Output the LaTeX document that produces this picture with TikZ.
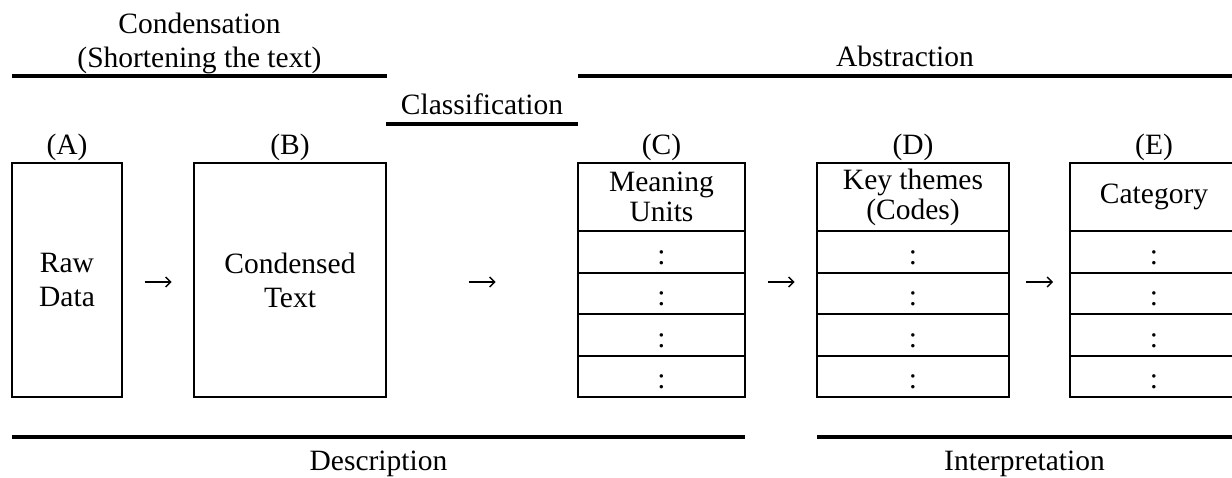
\documentclass[tikz,border=0pt]{standalone}
\usepackage{fontspec}
\setmainfont{Liberation Serif}
\usetikzlibrary{arrows.meta,calc}

\begin{document}
\begin{tikzpicture}[x=1pt,y=-1pt,
  every node/.style={inner sep=0pt, outer sep=0pt},
  txt/.style={font=\fontsize{29.5pt}{34pt}\selectfont, align=center},
  hdr/.style={font=\fontsize{29.5pt}{30pt}\selectfont, align=center},
  box/.style={draw, line width=2pt, minimum width=#1, minimum height=234pt},
  bar/.style={line width=3.5pt},
  rule/.style={line width=2pt},
  flow/.style={line width=1.3pt, -{Straight Barb[length=5pt,width=10pt]},
               shorten <=#1, shorten >=#1},
]
\useasboundingbox (0,0) rectangle (1232,478);
\clip (0,0) rectangle (1232,478);

% phase headings and their rules
\node[txt, anchor=south] (cond) at (199.5,73.5) {Condensation\\(Shortening the text)};
\draw[bar] (12,76) -- (387,76);
\node[txt, anchor=base] (abs) at (905,67) {Abstraction};
\draw[bar] (578,76) -- (1240,76);
\node[txt, anchor=base] (cls) at (482,115) {Classification};
\draw[bar] (386,124) -- (578,124);

% stages
\node[box=110pt, txt] (A) at (67,280) {Raw\\Data};
\node[box=192pt, txt] (B) at (290,280) {Condensed\\Text};
\node[box=167pt] (C) at (661.5,280) {};
\node[box=192pt] (D) at (913,280) {};
\node[box=168pt] (E) at (1154,280) {};

\foreach \b in {A,B,C,D,E}
  \node[txt, anchor=base] (\b-lab) at ($(\b.north)+(0,8pt)$) {(\b)};

% table stages: header cell and four rows of entries
\node[hdr] (C-head) at ($(C.north)+(0,-34.25pt)$) {Meaning\\Units};
\node[hdr] (D-head) at ($(D.north)+(0,-34.25pt)$) {Key themes\\(Codes)};
\node[hdr] (E-head) at ($(E.north)+(0,-34.25pt)$) {Category};
\foreach \b in {C,D,E}{
  \draw[rule] ($(\b.north west)+(0,-68.5pt)$) -- ($(\b.north east)+(0,-68.5pt)$);
  \foreach \k in {1,2,3}
    \draw[rule] ($(\b.south west)+(0,\k*41.4pt)$) -- ($(\b.south east)+(0,\k*41.4pt)$);
  \foreach \k in {0,...,3}
    \node[txt, anchor=base] (\b-r\k) at ($(\b.south)+(0,{(\k+0.5)*41.4pt-12.5pt})$) {:};
}

% flow between stages
\draw[flow=22.5pt] ([yshift=-2pt]A.east) -- ([yshift=-2pt]B.west);
\draw[flow=82.5pt] ([yshift=-2pt]B.east) -- ([yshift=-2pt]C.west);
\draw[flow=22.5pt] ([yshift=-2pt]C.east) -- ([yshift=-2pt]D.west);
\draw[flow=17pt] ([yshift=-2pt]D.east) -- ([yshift=-2pt]E.west);

% bottom rules
\draw[bar] (12,437) -- (745,437);
\node[txt, anchor=base] (desc) at (378.5,470) {Description};
\draw[bar] (817,437) -- (1240,437);
\node[txt, anchor=base] (interp) at (1024.5,470) {Interpretation};
\end{tikzpicture}
\end{document}
